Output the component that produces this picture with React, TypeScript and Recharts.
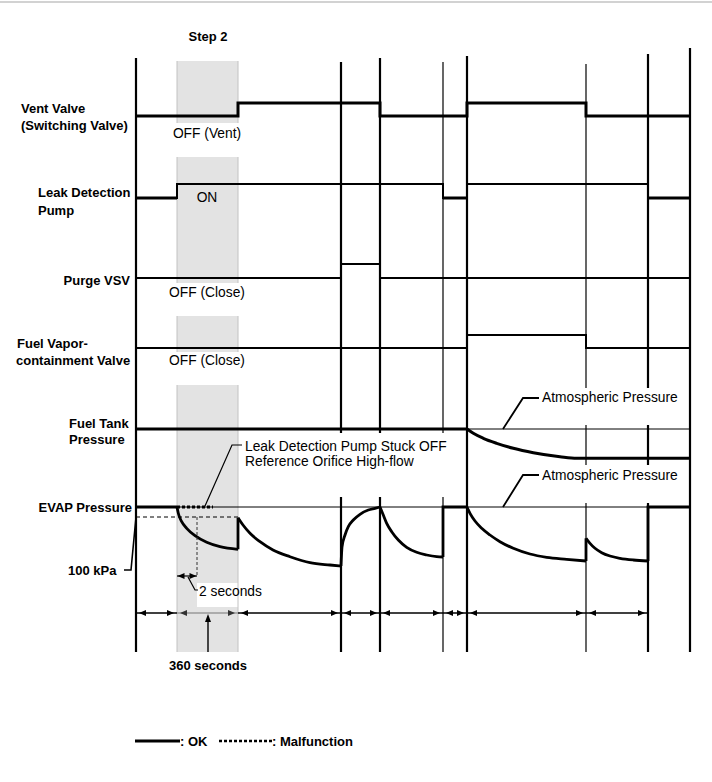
import {
  ComposedChart,
  Line,
  ReferenceArea,
  ReferenceDot,
  ReferenceLine,
  XAxis,
  YAxis,
} from "recharts";

// time axis runs from the first marker (t = 0); level axis is diagram units, top down
const END_T = 554;
const MARKERS = [0, 205, 244, 307, 331, 450, 512, 554];
const MARKER_TOPS = [58, 62, 58, 62, 56, 64, 54, 48];
const MARKER_HEAVY = [true, true, true, false, true, false, true, true];
// spans hidden behind the label boxes
const LEAK_BOX: [number, number] = [433, 497];
const ATM_BOXES: [number, number][] = [[388, 425], [465, 503]];
const MARKER_GAPS: [number, number][][] = [[], [LEAK_BOX], [LEAK_BOX], [LEAK_BOX], [], ATM_BOXES, ATM_BOXES, []];
const MARKER_BOTTOM = 652;
const STEP2 = [41, 102];
const SPAN_BREAKS = [0, 41, 102, 205, 244, 307, 331, 450, 512];

// [start time, state] ; levels are [off, on]
const VENT_STEPS: [number, number][] = [[0, 0], [102, 1], [244, 0], [331, 1], [450, 0]];
const PUMP_STEPS: [number, number][] = [[0, 0], [41, 1], [307, 0], [331, 1], [512, 0]];
const PURGE_STEPS: [number, number][] = [[0, 0], [205, 1], [244, 0]];
const VAPOR_STEPS: [number, number][] = [[0, 0], [331, 1], [450, 0]];
const VENT_LEVELS = [116, 103];
const PUMP_LEVELS = [198, 184];
const PURGE_LEVELS = [278, 264];
const VAPOR_LEVELS = [348, 335];

const TANK_ATM = 429;
const TANK_CURVE: [number, number][] = [
  [331, 429], [337.3, 433.3], [347.3, 438.3], [360.7, 443.3], [377.3, 448.3],
  [397.3, 452.7], [424, 456.7], [440.7, 458.3], [554, 458.3],
];

const EVAP_ATM = 507;
const EVAP_100KPA = 517;
const EVAP_STEP2: [number, number][] = [
  [41, 507], [42.3, 513.3], [45.7, 521.7], [50.7, 528.3], [59, 535.7], [70.7, 542.3], [84, 546.7], [102, 549.3],
];
const EVAP_SEAL: [number, number][] = [
  [102, 517.7], [107, 525], [114, 533.3], [124, 541.7], [137, 550], [154, 556.7], [174, 562.7], [194, 565], [205, 566],
];
const EVAP_PURGE: [number, number][] = [
  [205, 566], [206, 547], [209, 535], [212.3, 526.7], [217.3, 520], [224, 514.3], [232.3, 510], [239, 508.3], [244, 507],
];
const EVAP_CHECK: [number, number][] = [
  [244, 507], [247.3, 515], [250.7, 523.3], [255.7, 531.7], [262.3, 540], [270.7, 547.3], [280.7, 552.3], [290.7, 555], [300.7, 556.7], [307, 557],
];
const EVAP_TANK: [number, number][] = [
  [331, 507], [334, 513.3], [339, 521], [345.7, 528.3], [354, 535], [364, 541.7], [377.3, 548.3], [394, 554], [410.7, 557.3], [430.7, 559.3], [450, 561],
];
const EVAP_FINAL: [number, number][] = [
  [450, 538.3], [454, 543.3], [459, 548.3], [465.7, 552.7], [474, 556], [484, 558.3], [497.3, 560], [512, 561],
];
const MALFUNCTION_END = 77;

const INK = "#000";
const SHADE = "#e3e3e3";
const FONT = '"Liberation Sans", Arial, Helvetica, sans-serif';

const pts = (list: [number, number][]) => list.map(([t, y]) => ({ t, y }));

const stepPoints = (steps: [number, number][], levels: number[]) => {
  const out: { t: number; y: number }[] = [];
  steps.forEach(([t, s], i) => {
    const next = i + 1 < steps.length ? steps[i + 1][0] : END_T;
    out.push({ t, y: levels[s] }, { t: next, y: levels[s] });
  });
  return out;
};

const lowRuns = (steps: [number, number][], levels: number[]) =>
  steps
    .map(([t, s], i) => ({ t, s, next: i + 1 < steps.length ? steps[i + 1][0] : END_T }))
    .filter((r) => r.s === 0)
    .map((r) => [{ t: r.t, y: levels[0] }, { t: r.next, y: levels[0] }]);

// split a vertical run [top, bottom] around the gaps
const visibleRuns = (top: number, bottom: number, gaps: [number, number][]) => {
  const runs: [number, number][] = [];
  let start = top;
  gaps.forEach(([g1, g2]) => {
    runs.push([start, g1]);
    start = g2;
  });
  runs.push([start, bottom]);
  return runs;
};

const trace = (
  key: string,
  data: { t: number; y: number }[],
  width: number,
  opts: { type?: "linear" | "monotone"; color?: string; dash?: string } = {},
) => (
  <Line
    key={key}
    data={data}
    dataKey="y"
    type={opts.type ?? "linear"}
    stroke={opts.color ?? INK}
    strokeWidth={width}
    strokeDasharray={opts.dash}
    dot={false}
    activeDot={false}
    legendType="none"
    isAnimationActive={false}
  />
);

const seg = (key: string, t1: number, y1: number, t2: number, y2: number, width: number, color = INK, dash?: string) => (
  <ReferenceLine
    key={key}
    segment={[{ x: t1, y: y1 }, { x: t2, y: y2 }]}
    stroke={color}
    strokeWidth={width}
    strokeDasharray={dash}
    ifOverflow="visible"
  />
);

const note = (key: string, t: number, y: number, text: string, anchor: "start" | "middle" | "end", bold = false) => (
  <ReferenceDot
    key={key}
    x={t}
    y={y}
    r={0}
    fill="none"
    stroke="none"
    ifOverflow="visible"
    label={{
      value: text,
      position: anchor === "start" ? "right" : anchor === "end" ? "left" : "center",
      offset: 0,
      fill: INK,
      fontSize: bold ? 13 : 13.8,
      fontWeight: bold ? 700 : 400,
      fontFamily: FONT,
    }}
  />
);

const arrowPath = (cx: number, cy: number, dir: string) => {
  if (dir === "left") return `M${cx},${cy}L${cx + 7},${cy - 3}L${cx + 7},${cy + 3}Z`;
  if (dir === "right") return `M${cx},${cy}L${cx - 7},${cy - 3}L${cx - 7},${cy + 3}Z`;
  return `M${cx},${cy}L${cx - 3},${cy + 8}L${cx + 3},${cy + 8}Z`;
};

const head = (key: string, t: number, y: number, dir: string, color = INK) => (
  <ReferenceDot
    key={key}
    x={t}
    y={y}
    r={3}
    ifOverflow="visible"
    shape={(p: { cx: number; cy: number }) => <path d={arrowPath(p.cx, p.cy, dir)} fill={color} />}
  />
);

const SHADE_BANDS: [number, number][] = [[61, 123], [157, 283], [316, 352], [385, 652]];

export default function App() {
  const spans = SPAN_BREAKS.slice(0, -1).map((a, i) => [a, SPAN_BREAKS[i + 1]]);

  return (
    <div style={{ position: "absolute", left: 0, top: 0, width: 712, height: 782, background: "#fff" }}>
      <ComposedChart width={712} height={782} margin={{ top: 0, right: 0, bottom: 0, left: 0 }}>
        <XAxis type="number" dataKey="t" domain={[-136, 576]} hide allowDataOverflow />
        <YAxis type="number" domain={[0, 782]} reversed hide allowDataOverflow />

        {seg("frame", -136, 2, 576, 2, 2, "#d2d2d2")}

        {SHADE_BANDS.map(([y1, y2], i) => (
          <ReferenceArea key={`sh${i}`} x1={STEP2[0]} x2={STEP2[1]} y1={y1} y2={y2} fill={SHADE} fillOpacity={1} stroke="none" ifOverflow="visible" />
        ))}
        {SHADE_BANDS.flatMap(([y1, y2], i) => [
          seg(`shl${i}`, STEP2[0], y1, STEP2[0], y2, 1, "#c2c2c2"),
          seg(`shr${i}`, STEP2[1], y1, STEP2[1], y2, 1, "#c2c2c2"),
        ])}
        <ReferenceArea x1={61} x2={126} y1={583} y2={607} fill="#fff" fillOpacity={1} stroke="none" ifOverflow="visible" />

        {MARKERS.flatMap((t, i) =>
          visibleRuns(MARKER_TOPS[i], MARKER_BOTTOM, MARKER_GAPS[i]).map(([y1, y2], j) =>
            seg(`m${i}-${j}`, t, y1, t, y2, MARKER_HEAVY[i] ? 2.2 : 1.2),
          ),
        )}

        {/* switching rows */}
        {trace("vent", stepPoints(VENT_STEPS, VENT_LEVELS), 3)}
        {trace("pump", stepPoints(PUMP_STEPS, PUMP_LEVELS), 2)}
        {lowRuns(PUMP_STEPS, PUMP_LEVELS).map((d, i) => trace(`pumpLow${i}`, d, 3))}
        {trace("purge", stepPoints(PURGE_STEPS, PURGE_LEVELS), 2)}
        {trace("vapor", stepPoints(VAPOR_STEPS, VAPOR_LEVELS), 2)}

        {/* fuel tank pressure */}
        {trace("tankAtm", [{ t: 0, y: TANK_ATM }, { t: END_T, y: TANK_ATM }], 1)}
        {trace("tankHold", [{ t: 0, y: TANK_ATM }, { t: 331, y: TANK_ATM }], 3)}
        {trace("tankCurve", pts(TANK_CURVE), 3, { type: "monotone" })}

        {/* evap pressure */}
        {trace("evapAtm", [{ t: 0, y: EVAP_ATM }, { t: END_T, y: EVAP_ATM }], 1)}
        {trace("evap100", [{ t: 0, y: EVAP_100KPA }, { t: STEP2[1], y: EVAP_100KPA }], 1, { dash: "4 3" })}
        {trace("evapA", [{ t: 0, y: EVAP_ATM }, { t: 41, y: EVAP_ATM }], 3)}
        {trace("evapMal", [{ t: 41, y: EVAP_ATM }, { t: MALFUNCTION_END, y: EVAP_ATM }], 3, { dash: "3 2" })}
        {trace("evapB", pts(EVAP_STEP2), 2.8, { type: "monotone" })}
        {trace("evapBv", [{ t: 102, y: EVAP_STEP2[EVAP_STEP2.length - 1][1] }, { t: 102, y: EVAP_SEAL[0][1] }], 2.8)}
        {trace("evapC", pts(EVAP_SEAL), 2.8, { type: "monotone" })}
        {trace("evapD", pts(EVAP_PURGE), 2.8, { type: "monotone" })}
        {trace("evapE", pts(EVAP_CHECK), 2.8, { type: "monotone" })}
        {trace("evapEv", [{ t: 307, y: 557 }, { t: 307, y: EVAP_ATM }, { t: 331, y: EVAP_ATM }], 2.8)}
        {trace("evapF", pts(EVAP_TANK), 2.8, { type: "monotone" })}
        {trace("evapFv", [{ t: 450, y: 561 }, { t: 450, y: EVAP_FINAL[0][1] }], 2.8)}
        {trace("evapG", pts(EVAP_FINAL), 2.8, { type: "monotone" })}
        {trace("evapGv", [{ t: 512, y: 561 }, { t: 512, y: EVAP_ATM }, { t: END_T, y: EVAP_ATM }], 2.8)}

        {/* leaders */}
        {trace("ld100", [{ t: 0, y: 517 }, { t: -5, y: 570 }, { t: -12, y: 570 }], 1.6)}
        {trace("ldLeak", [{ t: 69, y: 506 }, { t: 96, y: 445 }, { t: 106, y: 445 }], 1.2)}
        {trace("ldAtm1", [{ t: 367, y: 429 }, { t: 387, y: 398 }, { t: 403, y: 398 }], 1.8)}
        {trace("ldAtm2", [{ t: 367, y: 507 }, { t: 387, y: 475 }, { t: 403, y: 475 }], 1.8)}
        {seg("dash2s", 61, 517, 61, 577, 1, "#333", "3 2")}

        {/* 2 seconds */}
        {seg("two", 41, 576, 61, 576, 1.2)}
        {head("twoL", 41.5, 576, "left")}
        {head("twoR", 60.5, 576, "right")}
        {trace("ld2s", [{ t: 52, y: 577 }, { t: 59, y: 590 }, { t: 62, y: 590 }], 1.2)}

        {/* duration row */}
        {seg("spanA", 0, 613, 41, 613, 1.6)}
        {seg("spanB", 41, 613, 102, 613, 1.6, "#9a9a9a")}
        {seg("spanC", 102, 613, 512, 613, 1.6)}
        {spans.flatMap(([a, b], i) => [
          head(`spL${i}`, a + 3, 613, "left", i === 1 ? "#333" : INK),
          head(`spR${i}`, b - 3, 613, "right", i === 1 ? "#333" : INK),
        ])}
        {seg("up360", 72, 652, 72, 620, 1.4)}
        {head("up360h", 72, 614, "up")}

        {/* texts */}
        {note("step2", 72, 36, "Step 2", "middle", true)}
        {note("offVent", 71, 133, "OFF (Vent)", "middle")}
        {note("on", 71, 197, "ON", "middle")}
        {note("offClose1", 71, 292, "OFF (Close)", "middle")}
        {note("offClose2", 71, 360, "OFF (Close)", "middle")}
        {note("r1a", -115, 108, "Vent Valve", "start", true)}
        {note("r1b", -115, 125, "(Switching Valve)", "start", true)}
        {note("r2a", -98, 192, "Leak Detection", "start", true)}
        {note("r2b", -98, 210, "Pump", "start", true)}
        {note("r3", -6, 280, "Purge VSV", "end", true)}
        {note("r4a", -119, 343, "Fuel Vapor-", "start", true)}
        {note("r4b", -120, 360, "containment Valve", "start", true)}
        {note("r5a", -67, 423, "Fuel Tank", "start", true)}
        {note("r5b", -67, 439, "Pressure", "start", true)}
        {note("r6", -4, 507, "EVAP Pressure", "end", true)}
        {note("kpa", -68, 570, "100 kPa", "start", true)}
        {note("leak1", 109, 446, "Leak Detection Pump Stuck OFF", "start")}
        {note("leak2", 109, 461, "Reference Orifice High-flow", "start")}
        {note("atm1", 406, 397, "Atmospheric Pressure", "start")}
        {note("atm2", 406, 475, "Atmospheric Pressure", "start")}
        {note("sec2", 63, 591, "2 seconds", "start")}
        {note("sec360", 72, 665, "360 seconds", "middle", true)}

        {/* legend */}
        {trace("lgOk", [{ t: -1, y: 741 }, { t: 44, y: 741 }], 3)}
        {note("lgOkT", 44, 741, ": OK", "start", true)}
        {trace("lgMal", [{ t: 83, y: 741 }, { t: 136, y: 741 }], 2.5, { dash: "3 2" })}
        {note("lgMalT", 136, 741, ": Malfunction", "start", true)}
      </ComposedChart>
    </div>
  );
}
